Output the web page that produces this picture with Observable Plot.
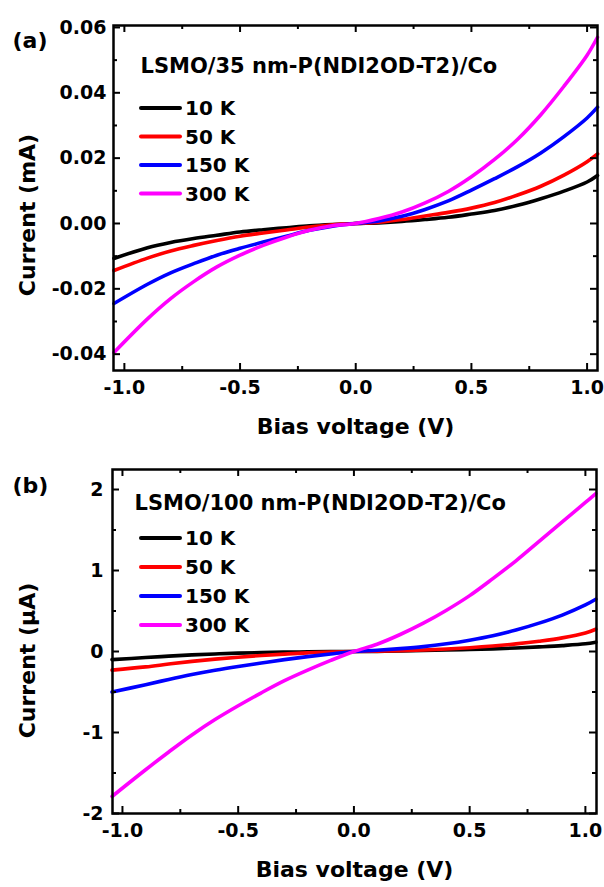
<!DOCTYPE html>
<html>
<head>
<meta charset="utf-8">
<script src="https://cdn.jsdelivr.net/npm/d3@7"></script>
<script src="https://cdn.jsdelivr.net/npm/@observablehq/plot@0.6"></script>
<style>
  body { margin: 0; background: #fff; }
  #chart svg { display: block; }
</style>
</head>
<body>
<div id="chart"></div>
<script>
// ---- Data ----
const voltage = [-1.045, -0.9, -0.8, -0.7, -0.6, -0.5, -0.4, -0.3, -0.2, -0.1, 0, 0.1, 0.2, 0.3, 0.4, 0.5, 0.6, 0.7, 0.8, 0.9, 1.0, 1.045];
const temperatures = ["10 K", "50 K", "150 K", "300 K"];
const colors = ["#000000", "#ff0000", "#0000ff", "#ff00ff"];

// Panel (a): LSMO/35 nm, current in mA
const a10K  = [-0.0107, -0.0074, -0.0058, -0.0046, -0.0036, -0.0026, -0.0019, -0.0013, -0.0007, -0.0003, 0, 0.0002, 0.0006, 0.0012, 0.0019, 0.0029, 0.0040, 0.0056, 0.0076, 0.0099, 0.0127, 0.0147];
const a50K  = [-0.0144, -0.0106, -0.0084, -0.0067, -0.0052, -0.0039, -0.0029, -0.0020, -0.0011, -0.0004, 0, 0.0004, 0.0012, 0.0023, 0.0034, 0.0047, 0.0064, 0.0087, 0.0114, 0.0148, 0.0189, 0.0213];
const a150K = [-0.0245, -0.0186, -0.0151, -0.0123, -0.0097, -0.0076, -0.0057, -0.0039, -0.0021, -0.0008, 0, 0.0008, 0.0022, 0.0043, 0.0069, 0.0102, 0.0137, 0.0174, 0.0216, 0.0266, 0.0323, 0.0356];
const a300K = [-0.0395, -0.0292, -0.0230, -0.0178, -0.0133, -0.0097, -0.0067, -0.0042, -0.0021, -0.0007, 0, 0.0015, 0.0035, 0.0063, 0.0098, 0.0143, 0.0196, 0.0258, 0.0333, 0.0420, 0.0515, 0.0570];

// Panel (b): LSMO/100 nm, current in µA
const b10K  = [-0.10, -0.075, -0.057, -0.042, -0.03, -0.02, -0.013, -0.008, -0.004, -0.002, 0, 0.002, 0.006, 0.012, 0.018, 0.025, 0.033, 0.043, 0.057, 0.073, 0.095, 0.115];
const b50K  = [-0.23, -0.19, -0.155, -0.122, -0.094, -0.07, -0.05, -0.032, -0.017, -0.006, 0, 0.003, 0.009, 0.018, 0.03, 0.046, 0.067, 0.094, 0.127, 0.168, 0.228, 0.275];
const b150K = [-0.50, -0.41, -0.345, -0.285, -0.232, -0.185, -0.142, -0.10, -0.063, -0.03, 0, 0.015, 0.035, 0.06, 0.095, 0.14, 0.195, 0.265, 0.35, 0.45, 0.575, 0.645];
const b300K = [-1.79, -1.46, -1.24, -1.03, -0.84, -0.67, -0.51, -0.36, -0.23, -0.11, 0, 0.09, 0.21, 0.35, 0.51, 0.69, 0.90, 1.12, 1.36, 1.60, 1.84, 1.95];

// Ticks and labels
const xMajorTicks = [-1, -0.5, 0, 0.5, 1];
const xMinorTicks = [-0.75, -0.25, 0.25, 0.75];
const yMajorTicksA = [-0.04, -0.02, 0, 0.02, 0.04, 0.06];
const yMinorTicksA = [-0.03, -0.01, 0.01, 0.03, 0.05];
const yMajorTicksB = [-2, -1, 0, 1, 2];
const yMinorTicksB = [-1.5, -0.5, 0.5, 1.5];
const xLabel = "Bias voltage (V)";
const yLabelA = "Current (mA)";
const yLabelB = "Current (\u03bcA)";
const titleA = "LSMO/35 nm-P(NDI2OD-T2)/Co";
const titleB = "LSMO/100 nm-P(NDI2OD-T2)/Co";

function tidy(seriesArrays) {
  const rows = [];
  seriesArrays.forEach((arr, s) => arr.forEach((v, i) => rows.push({v: voltage[i], i: v, T: temperatures[s]})));
  return rows;
}

function panel(o) {
  const W = 604;
  const innerW = W - o.ml - o.mr;
  const innerH = o.height - o.mt - o.mb;
  const major = 7, minor = 4;
  const tickStyle = {strokeWidth: 2, stroke: "black"};
  const svg = Plot.plot({
    width: W,
    height: o.height,
    marginLeft: o.ml, marginRight: o.mr, marginTop: o.mt, marginBottom: o.mb,
    style: {fontFamily: "'DejaVu Sans', sans-serif", fontWeight: "bold", fontSize: "19px", color: "black", background: "white", overflow: "visible"},
    x: {domain: o.xDomain},
    y: {domain: o.yDomain},
    color: {domain: temperatures, range: colors},
    marks: [
      Plot.line(tidy(o.series), {x: "v", y: "i", stroke: "T", strokeWidth: 3.6, curve: "catmull-rom", strokeLinejoin: "round"}),
      // inward ticks, bottom/top
      Plot.tickX(xMajorTicks, {x: d => d, insetTop: innerH - major, ...tickStyle}),
      Plot.tickX(xMinorTicks, {x: d => d, insetTop: innerH - minor, ...tickStyle}),
      Plot.tickX(xMajorTicks, {x: d => d, insetBottom: innerH - major, ...tickStyle}),
      Plot.tickX(xMinorTicks, {x: d => d, insetBottom: innerH - minor, ...tickStyle}),
      // inward ticks, left/right
      Plot.tickY(o.yMajor, {y: d => d, insetRight: innerW - major, ...tickStyle}),
      Plot.tickY(o.yMinor, {y: d => d, insetRight: innerW - minor, ...tickStyle}),
      Plot.tickY(o.yMajor, {y: d => d, insetLeft: innerW - major, ...tickStyle}),
      Plot.tickY(o.yMinor, {y: d => d, insetLeft: innerW - minor, ...tickStyle}),
      Plot.frame({stroke: "black", strokeWidth: 2.5}),
      Plot.axisX(xMajorTicks, {anchor: "bottom", tickSize: 0, tickPadding: o.xPad, tickFormat: d => d.toFixed(1), fontSize: 19, label: null}),
      Plot.axisY(o.yMajor, {anchor: "left", tickSize: 0, tickPadding: o.yPad, tickFormat: o.yFormat, fontSize: 19, label: null}),
      Plot.text([xLabel], {text: d => d, frameAnchor: "bottom", lineAnchor: "middle", textAnchor: "middle", dy: o.xLabelDy, fontSize: 22}),
      Plot.text([o.yLabel], {text: d => d, frameAnchor: "left", rotate: -90, textAnchor: "middle", lineAnchor: "middle", dx: o.yLabelDx, dy: o.yLabelDy, fontSize: 22}),
      Plot.text([o.tag], {text: d => d, frameAnchor: "top-left", textAnchor: "start", lineAnchor: "middle", dx: 12 - o.ml, dy: o.tagDy, fontSize: 22}),
      Plot.text([o.title], {text: d => d, frameAnchor: "top-left", textAnchor: "start", lineAnchor: "middle", dx: o.titleDx, dy: o.titleDy, fontSize: 21})
    ]
  });
  // legend swatches and labels
  const g = d3.select(svg).append("g").attr("font-size", 20).attr("font-weight", "bold")
    .attr("font-family", "'DejaVu Sans', sans-serif").attr("text-anchor", "start");
  temperatures.forEach((t, k) => {
    const y = o.mt + o.legY0 + k * o.legStep;
    g.append("line").attr("x1", 141).attr("x2", 180).attr("y1", y).attr("y2", y)
      .attr("stroke", colors[k]).attr("stroke-width", 4).attr("stroke-linecap", "round");
    g.append("text").attr("x", 185).attr("y", y).attr("dy", "0.36em").attr("fill", "black").text(t);
  });
  return svg;
}

const chart = document.getElementById("chart");
chart.appendChild(panel({
  series: [a10K, a50K, a150K, a300K],
  height: 440, ml: 113, mr: 7, mt: 25, mb: 70,
  xDomain: [-1.047, 1.045], yDomain: [-0.045, 0.0606],
  yMajor: yMajorTicksA, yMinor: yMinorTicksA, yFormat: d => d.toFixed(2),
  xPad: 10, yPad: 7, xLabelDy: 56,
  yLabel: yLabelA, yLabelDx: -86, yLabelDy: 17,
  tag: "(a)", tagDy: 15,
  title: titleA, titleDx: 27, titleDy: 41,
  legY0: 83, legStep: 28.5
}));
chart.appendChild(panel({
  series: [b10K, b50K, b150K, b300K],
  height: 447, ml: 112, mr: 8, mt: 29, mb: 74,
  xDomain: [-1.043, 1.048], yDomain: [-2.0, 2.247],
  yMajor: yMajorTicksB, yMinor: yMinorTicksB, yFormat: d => String(d),
  xPad: 10, yPad: 9, xLabelDy: 56,
  yLabel: yLabelB, yLabelDx: -85, yLabelDy: 19,
  tag: "(b)", tagDy: 16,
  title: titleB, titleDx: 22, titleDy: 34,
  legY0: 69, legStep: 29
}));
</script>
</body>
</html>
